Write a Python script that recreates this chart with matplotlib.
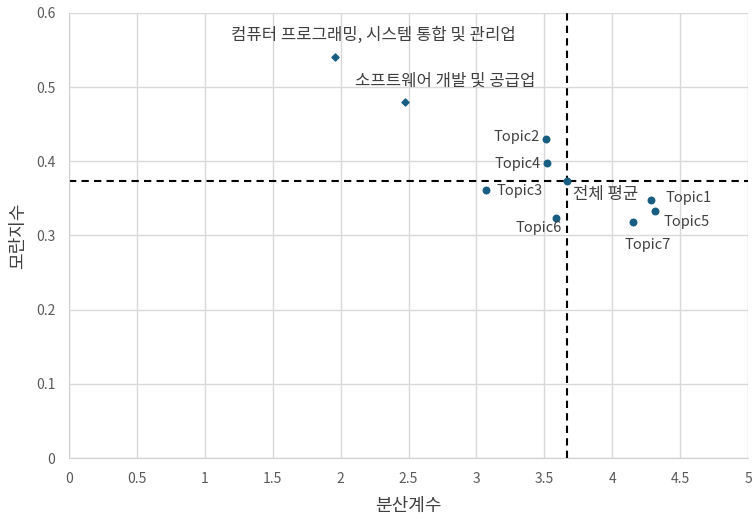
import matplotlib
matplotlib.use("Agg")
import matplotlib.pyplot as plt

plt.rcParams["font.family"] = ["Noto Sans CJK KR", "DejaVu Sans"]

# topic points (분산계수, 모란지수)
topic_names = ["Topic1", "Topic2", "Topic3", "Topic4", "Topic5", "Topic6", "Topic7"]
topic_x = [4.286, 3.512, 3.07, 3.52, 4.315, 3.586, 4.153]
topic_y = [0.348, 0.430, 0.361, 0.398, 0.333, 0.324, 0.318]

# overall average
avg_name = "전체 평균"
avg_x = 3.667
avg_y = 0.3735

# industries (diamond markers)
industry_names = ["컴퓨터 프로그래밍, 시스템 통합 및 관리업", "소프트웨어 개발 및 공급업"]
industry_x = [1.959, 2.474]
industry_y = [0.541, 0.480]

color = "#175e82"
text_color = "#404040"

fig = plt.figure(figsize=(7.52, 5.19), dpi=100)
ax = fig.add_axes([0.0918, 0.1175, 0.903, 0.8575])

ax.scatter(topic_x + [avg_x], topic_y + [avg_y], s=22, color=color, zorder=3)
ax.scatter(industry_x, industry_y, s=13, marker="D", color=color, zorder=3)

ax.axvline(avg_x, color="black", linestyle=(0, (3.5, 2.5)), linewidth=1.5, zorder=2)
ax.axhline(avg_y, color="black", linestyle=(0, (3.5, 2.5)), linewidth=1.5, zorder=2)

# label offsets in pixels (dx, dy, ha)
label_pos = {
    "Topic1": (14, 2, "left"),
    "Topic2": (-6, 2, "right"),
    "Topic3": (11, -1, "left"),
    "Topic4": (-6, -1, "right"),
    "Topic5": (8, -11, "left"),
    "Topic6": (6, -10, "right"),
    "Topic7": (15, -23, "center"),
}
for name, x, y in zip(topic_names, topic_x, topic_y):
    dx, dy, ha = label_pos[name]
    ax.annotate(name, (x, y), xytext=(dx, dy), textcoords="offset pixels",
                ha=ha, va="center", fontsize=10.5, color=text_color)

ax.annotate(avg_name, (avg_x, avg_y), xytext=(6, -14), textcoords="offset pixels",
            ha="left", va="center", fontsize=12, color=text_color)

ind_offsets = [(38, 21), (40, 21)]
for name, x, y, (dx, dy) in zip(industry_names, industry_x, industry_y, ind_offsets):
    ax.annotate(name, (x, y), xytext=(dx, dy), textcoords="offset pixels",
                ha="center", va="center", fontsize=12, color=text_color)

ax.set_xlim(0, 5)
ax.set_ylim(0, 0.6)
ax.set_xticks([0, 0.5, 1, 1.5, 2, 2.5, 3, 3.5, 4, 4.5, 5])
ax.set_xticklabels(["0", "0.5", "1", "1.5", "2", "2.5", "3", "3.5", "4", "4.5", "5"])
ax.set_yticks([0, 0.1, 0.2, 0.3, 0.4, 0.5, 0.6])
ax.set_yticklabels(["0", "0.1", "0.2", "0.3", "0.4", "0.5", "0.6"])
ax.grid(True, color="#d9d9d9", linewidth=1)
ax.set_axisbelow(True)
for side in ["top", "right"]:
    ax.spines[side].set_visible(False)
for side in ["left", "bottom"]:
    ax.spines[side].set_color("#d0d0d0")
ax.tick_params(length=0, labelsize=10, labelcolor="#595959", pad=10)

ax.set_xlabel("분산계수", fontsize=13, color=text_color, labelpad=8)
ax.set_ylabel("모란지수", fontsize=13, color=text_color, labelpad=6)

fig.savefig("out.png", dpi=100)
